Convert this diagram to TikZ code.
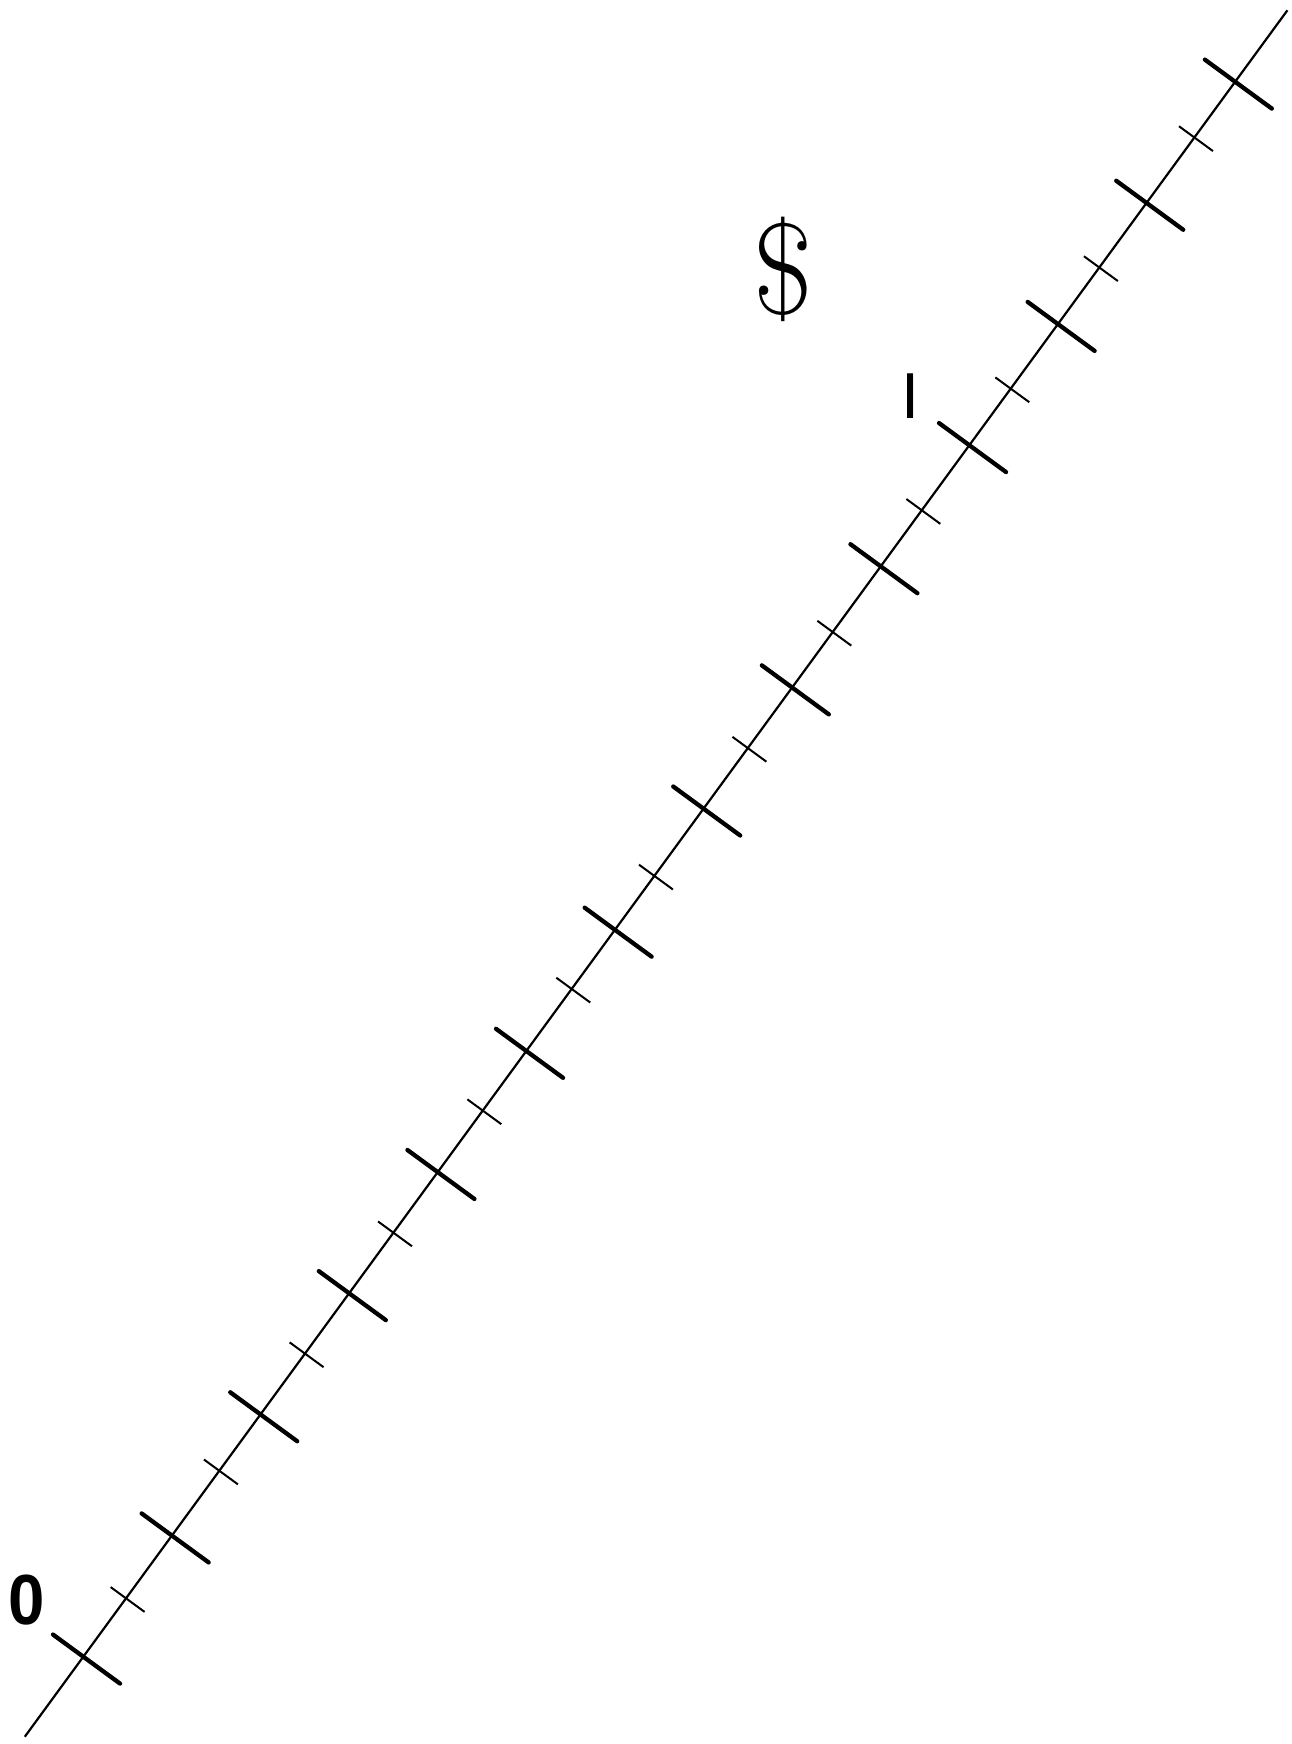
\documentclass[tikz,border=0pt]{standalone}
\usepackage{fontspec}
\newfontfamily\lsans{Liberation Sans}
\begin{document}
\begin{tikzpicture}[x=1pt,y=-1pt,
  axis/.style={line width=2.2pt},
  bigtick/.style={line width=4.3pt, line cap=round},
  smalltick/.style={line width=2pt},
  lbl/.style={inner sep=0pt, anchor=base}]
\useasboundingbox (0,0) rectangle (1291,1744);
% main line: P(t) = (83.3+88.6 t, 1656.7-121.15 t)
\coordinate (lo) at (24.8,1736.7);
\coordinate (hi) at (1287.4,10.3);
\draw[axis] (lo) -- (hi);
% major ticks
\foreach \k in {0,...,13}{
  \pgfmathsetmacro\cx{83.3+88.6*\k}
  \pgfmathsetmacro\cy{1656.7-121.15*\k}
  \draw[bigtick] (\cx-30.27,\cy-22.14) -- (\cx+36.73,\cy+26.86);
}
% minor ticks
\foreach \t in {0.482,1.535,2.502,3.5,4.508,5.512,6.445,7.5,8.458,9.463,10.467,11.467,12.54}{
  \pgfmathsetmacro\cx{83.3+88.6*\t}
  \pgfmathsetmacro\cy{1656.7-121.15*\t}
  \draw[smalltick] (\cx-15.34,\cy-11.22) -- (\cx+18.57,\cy+13.58);
}
% labels
\node[lbl, xscale=0.92, transform shape] (zero) at (26.5,1624.5) {\lsans\bfseries\fontsize{71}{71}\selectfont 0};
\node[lbl] (one) at (910.7,418.3) {\lsans\fontsize{65}{65}\selectfont I};
\node[lbl] (dollar) at (783,314.4) {\fontsize{130}{130}\selectfont\$};
\end{tikzpicture}
\end{document}
